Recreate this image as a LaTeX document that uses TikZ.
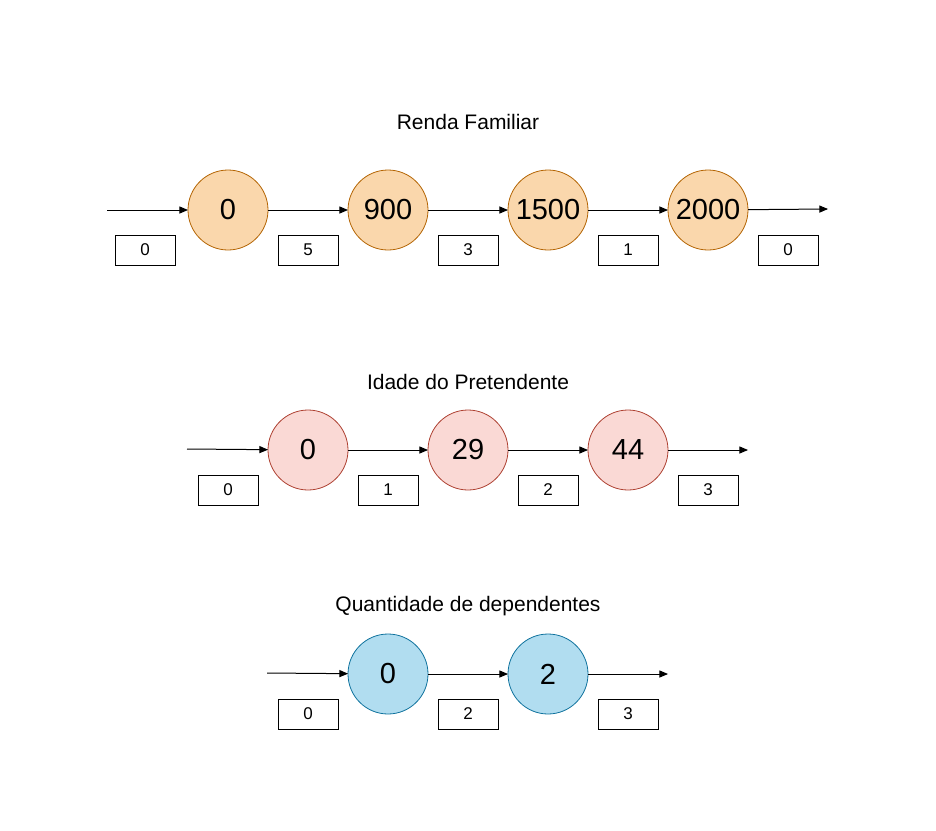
\documentclass[tikz,border=0pt]{standalone}
\usepackage{fontspec}
\setmainfont{Liberation Sans}
\usetikzlibrary{arrows}
\usetikzlibrary{positioning}
\definecolor{orangefill}{HTML}{FAD7AC}
\definecolor{orangeline}{HTML}{B46504}
\definecolor{redfill}{HTML}{FAD9D5}
\definecolor{redline}{HTML}{AE4132}
\definecolor{bluefill}{HTML}{B1DDF0}
\definecolor{blueline}{HTML}{10739E}
\tikzstyle{value} = [circle, draw, line width=0.8pt, minimum size=80pt, inner sep=0pt,
outer sep=0pt, font=\fontsize{29}{29}\selectfont, node distance=80pt]
\tikzstyle{renda} = [value, fill=orangefill, draw=orangeline]
\tikzstyle{idade} = [value, fill=redfill, draw=redline]
\tikzstyle{dep} = [value, fill=bluefill, draw=blueline]
\tikzstyle{count} = [rectangle, draw=black, line width=1pt, minimum width=60pt,
minimum height=30pt, inner sep=0pt, font=\fontsize{17}{17}\selectfont]
\tikzstyle{title} = [font=\fontsize{21}{21}\selectfont]
\tikzset{>={triangle 45}}
\newcommand{\edge}[3][]{ %
  % Connect all nodes #2 to all nodes #3.
  \foreach \x in {#2} { %
    \foreach \y in {#3} { %
      \path (\x) edge [->,#1] (\y) ;%
    } ;
  } ;
}

\begin{document}
\begin{tikzpicture}[x=1pt, y=-1pt, line width=1pt]
                \useasboundingbox (0,0) rectangle (936,830);

                % Renda Familiar
                \node[title] (trenda) at (468,122) {Renda Familiar} ; %
                \coordinate (rin) at (107,210) ;
                \node[renda] (r0) at (228,210) {0} ; %
                \node[renda, right=of r0] (r1) {900} ; %
                \node[renda, right=of r1] (r2) {1500} ; %
                \node[renda, right=of r2] (r3) {2000} ; %
                \coordinate (rout) at (828,209) ;
                \node[count] (cr0) at (145,250) {0} ; %
                \node[count] (cr1) at (308,250) {5} ; %
                \node[count] (cr2) at (468,250) {3} ; %
                \node[count] (cr3) at (628,250) {1} ; %
                \node[count] (cr4) at (788,250) {0} ; %

                % Idade do Pretendente
                \node[title] (tidade) at (468,382) {Idade do Pretendente} ; %
                \coordinate (iin) at (187,449) ;
                \node[idade] (i0) at (308,450) {0} ; %
                \node[idade, right=of i0] (i1) {29} ; %
                \node[idade, right=of i1] (i2) {44} ; %
                \coordinate (iout) at (748,450) ;
                \node[count] (ci0) at (228,490) {0} ; %
                \node[count] (ci1) at (388,490) {1} ; %
                \node[count] (ci2) at (548,490) {2} ; %
                \node[count] (ci3) at (708,490) {3} ; %

                % Quantidade de dependentes
                \node[title] (tdep) at (468,606) {Quantidade de dependentes} ; %
                \coordinate (din) at (267,673) ;
                \node[dep] (d0) at (388,674) {0} ; %
                \node[dep, right=of d0] (d1) {2} ; %
                \coordinate (dout) at (668,674) ;
                \node[count] (cd0) at (308,714) {0} ; %
                \node[count] (cd1) at (468,714) {2} ; %
                \node[count] (cd2) at (628,714) {3} ; %

                \edge {rin} {r0};
                \edge {r0} {r1};
                \edge {r1} {r2};
                \edge {r2} {r3};
                \edge {r3} {rout};
                \edge {iin} {i0};
                \edge {i0} {i1};
                \edge {i1} {i2};
                \edge {i2} {iout};
                \edge {din} {d0};
                \edge {d0} {d1};
                \edge {d1} {dout};
            \end{tikzpicture}
\end{document}
